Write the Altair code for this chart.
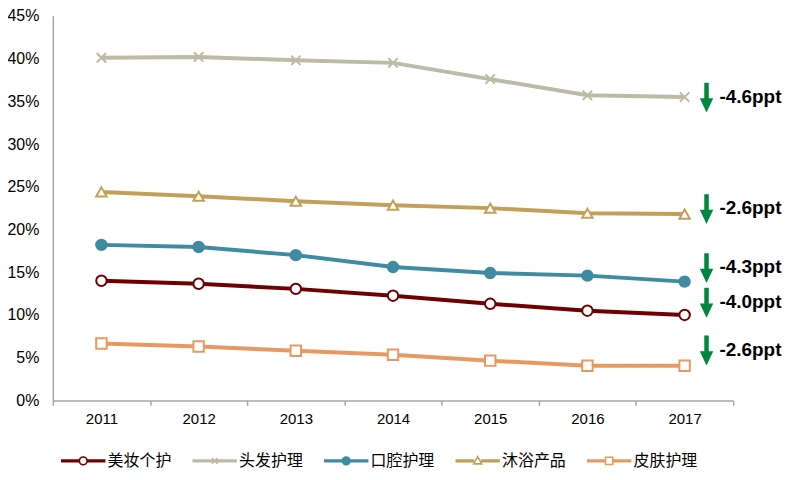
import altair as alt
import pandas as pd

years = ["2011", "2012", "2013", "2014", "2015", "2016", "2017"]
series_names = ["美妆个护", "头发护理", "口腔护理", "沐浴产品", "皮肤护理"]
beauty = [14.0, 13.65, 13.05, 12.25, 11.3, 10.5, 10.0]
hair = [40.1, 40.2, 39.8, 39.5, 37.6, 35.7, 35.5]
oral = [18.2, 17.95, 17.0, 15.6, 14.9, 14.6, 13.9]
bath = [24.4, 23.9, 23.3, 22.85, 22.5, 21.9, 21.8]
skin = [6.65, 6.3, 5.8, 5.35, 4.65, 4.05, 4.05]

ann_labels = ["-4.6ppt", "-2.6ppt", "-4.3ppt", "-4.0ppt", "-2.6ppt"]
ann_values = [35.55, 22.5, 15.6, 11.55, 5.95]

colors = ["#6E0000", "#BCBBA6", "#3F8BA1", "#C3A05A", "#E69A62"]
xpath = "M-0.9,-0.9L0.9,0.9M-0.9,0.9L0.9,-0.9"
point_shapes = ["circle", xpath, "circle", "triangle-up", "square"]
point_fills = ["white", "transparent", "#3F8BA1", "white", "white"]

rows = []
for name, vals in zip(series_names, [beauty, hair, oral, bath, skin]):
    for yr, v in zip(years, vals):
        rows.append({"year": yr, "series": name, "value": v})
df = pd.DataFrame(rows)
ann_df = pd.DataFrame({"year": [years[-1]] * len(ann_labels), "label": ann_labels, "value": ann_values})

# legend symbol paths: thin stroked bars + marker outline
bars = "M-1,-0.035L-0.2,-0.035L-0.2,0.035L-1,0.035Z M0.2,-0.035L1,-0.035L1,0.035L0.2,0.035Z "
full_bar = "M-1,-0.035L1,-0.035L1,0.035L-1,0.035Z "
circ = "M0.18,0A0.18,0.18 0 1,1 -0.18,0A0.18,0.18 0 1,1 0.18,0Z"
legend_paths = [
    bars + circ,
    full_bar + "M-0.13,-0.13L0.13,0.13M-0.13,0.13L0.13,-0.13",
    bars + circ,
    bars + "M0,-0.2L0.19,0.14L-0.19,0.14Z",
    bars.replace("0.2,", "0.17,").replace("-0.2,", "-0.17,") + "M-0.17,-0.17L0.17,-0.17L0.17,0.17L-0.17,0.17Z",
]

FONT = "Liberation Sans"

x_enc = alt.X(
    "year:O",
    scale=alt.Scale(type="band", paddingInner=0, paddingOuter=0),
    axis=alt.Axis(
        title=None, labelAngle=0, tickBand="extent", tickSize=5, tickColor="#A6A6A6",
        tickWidth=1.5, domainColor="#A6A6A6", domainWidth=1.5, labelPadding=6,
        labelFont=FONT, labelFontSize=15, labelColor="black", grid=False,
    ),
)
y_enc = alt.Y(
    "value:Q",
    scale=alt.Scale(domain=[0, 45], nice=False),
    axis=alt.Axis(
        title=None, values=list(range(0, 50, 5)), labelExpr="datum.value + '%'",
        grid=False, ticks=False, labelPadding=14, domainColor="#A6A6A6", domainWidth=1.5,
        labelFont=FONT, labelFontSize=16, labelColor="black",
    ),
)

base = alt.Chart(df)

lines = base.mark_line(strokeWidth=4).encode(
    x=x_enc,
    y=y_enc,
    color=alt.Color("series:N", scale=alt.Scale(domain=series_names, range=colors), legend=None),
    detail="series:N",
)

points = base.mark_point(size=110, strokeWidth=2, opacity=1).encode(
    x="year:O",
    y="value:Q",
    stroke=alt.Stroke("series:N", scale=alt.Scale(domain=series_names, range=colors), legend=None),
    fill=alt.Fill("series:N", scale=alt.Scale(domain=series_names, range=point_fills), legend=None),
    shape=alt.Shape("series:N", scale=alt.Scale(domain=series_names, range=point_shapes), legend=None),
)

leg = dict(
    title=None, orient="none", legendX=8, legendY=424, direction="horizontal",
    columns=5, symbolSize=1849, columnPadding=17, labelOffset=2,
    labelFont="Noto Sans CJK SC", labelFontSize=16, labelColor="black",
    symbolStrokeWidth=1.6, symbolOpacity=1,
)
legend_layer = (
    base.transform_calculate(lseries="datum.series")
    .transform_filter("datum.value < 0")
    .mark_point(size=1849, strokeWidth=1.6, opacity=1)
    .encode(
        x="year:O",
        y="value:Q",
        shape=alt.Shape("lseries:N", title=None, scale=alt.Scale(domain=series_names, range=legend_paths), legend=alt.Legend(**leg)),
        stroke=alt.Stroke("lseries:N", title=None, scale=alt.Scale(domain=series_names, range=colors), legend=alt.Legend(**leg)),
        fill=alt.Fill("lseries:N", title=None, scale=alt.Scale(domain=series_names, range=point_fills), legend=alt.Legend(**leg)),
    )
)

arrow_path = "M-0.15,-1L0.15,-1L0.15,0.05L0.45,0.05L0,1L-0.45,0.05L-0.15,0.05Z"
arrows = alt.Chart(ann_df).mark_point(
    shape=arrow_path, size=900, filled=True, color="#00873F", opacity=1,
    strokeWidth=0, xOffset=22, yOffset=1,
).encode(x="year:O", y="value:Q")

texts = alt.Chart(ann_df).mark_text(
    align="left", baseline="middle", dx=35, font=FONT, fontSize=19,
    fontWeight="bold", color="black",
).encode(x="year:O", y="value:Q", text="label:N")

chart = (
    alt.layer(lines, points, legend_layer, arrows, texts)
    .resolve_scale(shape="independent", stroke="independent", fill="independent")
    .properties(width=683, height=386, padding={"left": -2, "top": -1, "right": 5, "bottom": 5})
    .configure_view(stroke=None)
)

chart.save("out.html", embed_options={"renderer": "svg", "actions": False})
